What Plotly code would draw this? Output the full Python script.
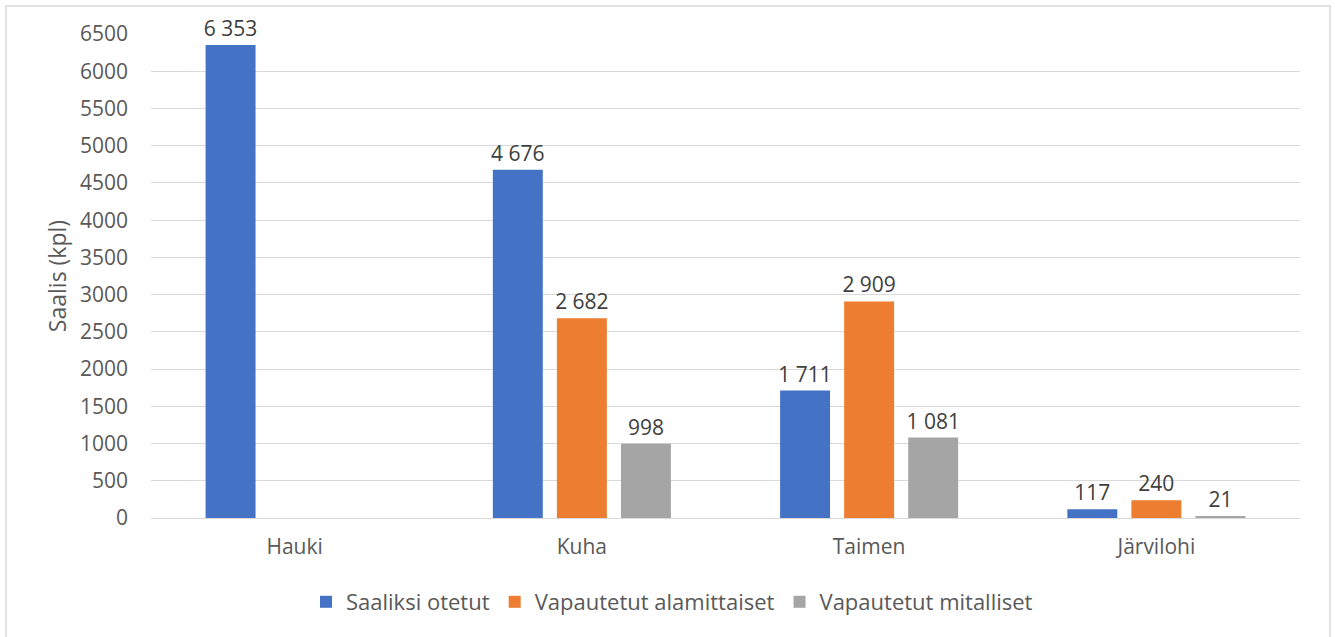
import plotly.graph_objects as go

# catch per species
categories = ['Hauki', 'Kuha', 'Taimen', 'Järvilohi']
saaliiksi_otetut = [6353, 4676, 1711, 117]
vapautetut_alamittaiset = [None, 2682, 2909, 240]
vapautetut_mitalliset = [None, 998, 1081, 21]

series_names = ['Saaliksi otetut', 'Vapautetut alamittaiset', 'Vapautetut mitalliset']
series_values = [saaliiksi_otetut, vapautetut_alamittaiset, vapautetut_mitalliset]
series_colors = ['#4472C4', '#ED7D31', '#A5A5A5']

y_ticks = list(range(0, 6501, 500))


def fmt(v):
    # finnish style thousands separator
    if v is None:
        return ''
    return f'{v:,}'.replace(',', ' ')


W, H = 1335, 637
L, T = 151, 34
plot_w, plot_h = 1300 - 151, 518 - 34
R = W - L - plot_w
B = H - T - plot_h

# pixel -> paper helpers
px = lambda x: (x - L) / plot_w
py = lambda y: (T + plot_h - y) / plot_h

fig = go.Figure()
for name, vals, col in zip(series_names, series_values, series_colors):
    fig.add_trace(go.Bar(
        x=categories, y=vals, name=name,
        marker=dict(color=col, line=dict(width=0)),
        text=[fmt(v) for v in vals],
        textposition='outside', constraintext='none',
        textfont=dict(color='#404040', size=21),
        cliponaxis=False,
    ))

# chart border like in excel
fig.add_shape(type='rect', xref='paper', yref='paper',
              x0=px(6), x1=px(1330), y0=py(660), y1=py(6),
              line=dict(color='#D9D9D9', width=1.5), layer='below')

fig.update_layout(
    width=W, height=H,
    margin=dict(l=L, r=R, t=T, b=B, autoexpand=False),
    paper_bgcolor='white', plot_bgcolor='white',
    font=dict(family='Open Sans', size=21, color='#595959'),
    barmode='group', bargap=0.331, bargroupgap=0.22,
    showlegend=True,
    legend=dict(orientation='h', x=px(672), xanchor='center',
                y=py(602), yanchor='middle',
                font=dict(size=22, color='#595959'),
                itemwidth=30, traceorder='normal'),
    xaxis=dict(showgrid=False, showline=False, ticks='', ticklabelstandoff=14,
               tickfont=dict(size=21, color='#595959')),
    yaxis=dict(range=[0, 6500], tickvals=y_ticks, ticktext=[str(t) for t in y_ticks],
               showgrid=True, gridcolor='#D9D9D9', gridwidth=1.3,
               zeroline=True, zerolinecolor='#D9D9D9', zerolinewidth=1.3,
               showline=False, ticks='', ticklabelstandoff=22,
               tickfont=dict(size=21, color='#595959'),
               title=dict(text='Saalis (kpl)', font=dict(size=23, color='#595959'), standoff=6)),
)

fig.write_html('out.html', config={'displayModeBar': False},
               post_script="document.body.style.margin='0';")
